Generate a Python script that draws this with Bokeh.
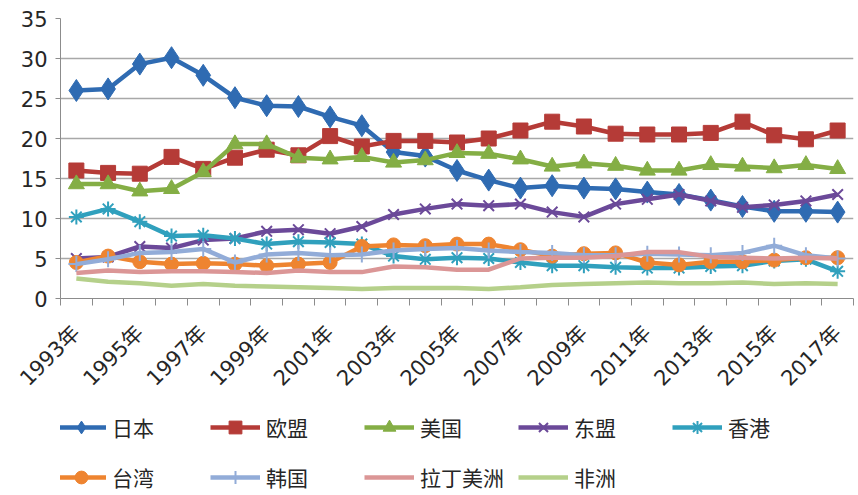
from bokeh.plotting import figure
from bokeh.models import FixedTicker, Legend, LegendItem, Range1d
from bokeh.layouts import column
from bokeh.embed import file_html
from bokeh.resources import INLINE
from math import pi

years = ["1993年", "1994年", "1995年", "1996年", "1997年", "1998年", "1999年",
         "2000年", "2001年", "2002年", "2003年", "2004年", "2005年", "2006年",
         "2007年", "2008年", "2009年", "2010年", "2011年", "2012年", "2013年",
         "2014年", "2015年", "2016年", "2017年"]

japan = [26.0, 26.2, 29.3, 30.1, 27.9, 25.1, 24.1, 24.0, 22.7, 21.6, 18.3, 17.8,
         16.0, 14.8, 13.8, 14.1, 13.8, 13.7, 13.3, 13.0, 12.3, 11.5, 10.9, 10.9, 10.8]
eu = [16.0, 15.7, 15.6, 17.7, 16.2, 17.6, 18.6, 17.9, 20.3, 19.0, 19.7, 19.7,
      19.5, 20.0, 21.0, 22.1, 21.5, 20.6, 20.5, 20.5, 20.7, 22.1, 20.4, 19.9, 21.0]
us = [14.3, 14.3, 13.4, 13.7, 15.8, 19.3, 19.3, 17.6, 17.4, 17.7, 17.0, 17.3,
      18.2, 18.1, 17.4, 16.5, 16.9, 16.6, 16.0, 16.0, 16.7, 16.5, 16.3, 16.7, 16.2]
asean = [5.0, 5.2, 6.5, 6.3, 7.3, 7.5, 8.4, 8.6, 8.1, 9.0, 10.5, 11.2,
         11.8, 11.6, 11.8, 10.8, 10.2, 11.8, 12.4, 13.0, 12.2, 11.4, 11.7, 12.2, 13.0]
hongkong = [10.2, 11.2, 9.6, 7.8, 7.9, 7.5, 6.8, 7.1, 7.0, 6.8, 5.3, 4.9,
            5.1, 5.0, 4.5, 4.1, 4.1, 3.9, 3.8, 3.8, 4.0, 4.1, 4.7, 4.9, 3.4]
taiwan = [4.5, 5.3, 4.6, 4.3, 4.4, 4.3, 4.1, 4.3, 4.5, 6.5, 6.7, 6.6,
          6.8, 6.8, 6.1, 5.3, 5.6, 5.7, 4.5, 4.2, 4.6, 4.6, 4.8, 5.1, 5.1]
korea = [4.3, 4.9, 5.7, 5.8, 6.2, 4.5, 5.5, 5.7, 5.4, 5.5, 6.0, 6.2,
         6.3, 6.0, 5.8, 5.7, 5.4, 5.4, 5.6, 5.5, 5.4, 5.7, 6.6, 5.4, 5.0]
latam = [3.2, 3.5, 3.3, 3.4, 3.4, 3.3, 3.2, 3.5, 3.3, 3.3, 4.0, 3.9,
         3.6, 3.6, 5.0, 5.1, 5.1, 5.3, 5.8, 5.8, 5.2, 5.1, 5.0, 5.1, 5.0]
africa = [2.5, 2.1, 1.9, 1.6, 1.8, 1.6, 1.5, 1.4, 1.3, 1.2, 1.3, 1.3,
          1.3, 1.2, 1.4, 1.7, 1.8, 1.9, 2.0, 1.9, 1.9, 2.0, 1.8, 1.9, 1.8]

series_names = ["日本", "欧盟", "美国", "东盟", "香港", "台湾", "韩国", "拉丁美洲", "非洲"]
y_ticks = [0, 5, 10, 15, 20, 25, 30, 35]

series = [japan, eu, us, asean, hongkong, taiwan, korea, latam, africa]
styles = [
    ("#2F6BB2", "diamond", 22),
    ("#B53B37", "square", 15),
    ("#84AE45", "triangle", 16),
    ("#6B4999", "x", 15),
    ("#30A0BD", "asterisk", 15),
    ("#EE8430", "circle", 14),
    ("#92ACD8", "cross", 16),
    ("#DB9696", None, 0),
    ("#B5D08A", None, 0),
]

NUM_FONT = "DejaVu Sans, Noto Sans CJK SC"
CJK_FONT = "Noto Sans CJK SC"

xs = list(range(len(years)))


def add_series(fig):
    items = []
    for name, vals, (color, marker, size) in zip(series_names, series, styles):
        r_line = fig.line(xs, vals, line_color=color, line_width=4.5)
        rends = [r_line]
        if marker is not None:
            if marker in ("x", "asterisk", "cross"):
                r_m = fig.scatter(xs, vals, marker=marker, size=size,
                                  line_color=color, line_width=2)
            else:
                r_m = fig.scatter(xs, vals, marker=marker, size=size,
                                  fill_color=color, line_color=color)
            rends.append(r_m)
        items.append(LegendItem(label=name, renderers=rends))
    return items


# main chart
p = figure(width=858, height=403, output_backend="svg", toolbar_location=None,
           x_range=Range1d(-0.5, len(years) - 0.5), y_range=Range1d(0, 35),
           min_border_left=60, min_border_right=5, min_border_top=18,
           min_border_bottom=105)
p.outline_line_color = None
p.xgrid.visible = False
p.ygrid.grid_line_color = "#a8a8a8"
p.ygrid.grid_line_width = 1.5

p.yaxis.ticker = FixedTicker(ticks=y_ticks)
p.yaxis.major_tick_out = 5
p.yaxis.major_tick_in = 0
p.yaxis.minor_tick_line_color = None
p.yaxis.axis_line_color = "#8c8c8c"
p.yaxis.major_tick_line_color = "#8c8c8c"
p.yaxis.major_label_text_font = NUM_FONT
p.yaxis.major_label_text_font_size = "21px"
p.yaxis.major_label_text_color = "#262626"
p.yaxis.major_label_standoff = 8

p.xaxis.ticker = FixedTicker(ticks=xs[::2],
                             minor_ticks=[i - 0.5 for i in range(len(years) + 1)])
p.xaxis.major_label_overrides = {i: years[i] for i in xs[::2]}
p.xaxis.major_tick_out = 0
p.xaxis.major_tick_in = 0
p.xaxis.minor_tick_out = 7
p.xaxis.minor_tick_in = 0
p.xaxis.minor_tick_line_color = "#8c8c8c"
p.xaxis.axis_line_color = "#8c8c8c"
p.xaxis.major_label_orientation = pi / 4
p.xaxis.major_label_text_font = NUM_FONT
p.xaxis.major_label_text_font_size = "21px"
p.xaxis.major_label_text_color = "#262626"
p.xaxis.major_label_standoff = 24

add_series(p)

# legend strip (same series, drawn off-screen; only the legend is visible)
q = figure(width=858, height=92, output_backend="svg", toolbar_location=None,
           x_range=Range1d(-200, -199), y_range=Range1d(-200, -199),
           x_axis_location=None, y_axis_location=None, min_border=0)
q.outline_line_color = None
q.grid.visible = False
items = add_series(q)

legend = Legend(items=items, location=(-4, 0), orientation="horizontal", ncols=5,
                glyph_width=50, glyph_height=32, label_width=84, label_height=36,
                spacing=14, padding=0, margin=0, label_standoff=6,
                border_line_color=None, background_fill_alpha=0,
                label_text_font=CJK_FONT, label_text_font_size="21px",
                label_text_color="#262626")
q.add_layout(legend, "center")

open("out.html", "w").write(file_html(column(p, q), INLINE))
